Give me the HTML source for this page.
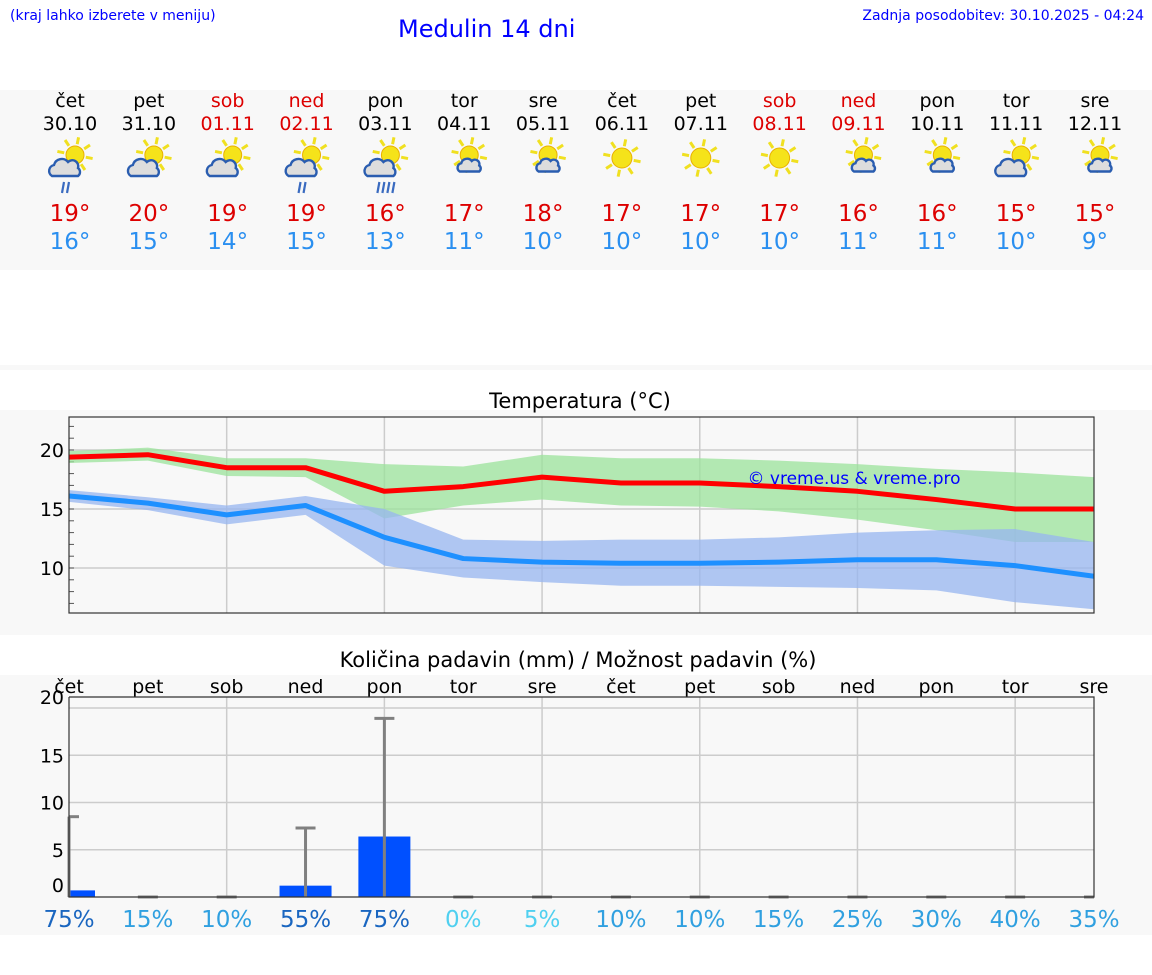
<!DOCTYPE html>
<html><head><meta charset="utf-8"><style>
body{margin:0;width:1152px;height:975px;background:#fff;font-family:"DejaVu Sans","Liberation Sans",sans-serif;position:relative;overflow:hidden}
.abs{position:absolute}
</style></head><body>
<div class="abs" style="left:10px;top:8px;font-size:14px;color:#00f">(kraj lahko izberete v meniju)</div>
<div class="abs" style="left:398px;top:15px;font-size:24px;color:#00f">Medulin 14 dni</div>
<div class="abs" style="right:8px;top:8px;font-size:14px;color:#00f">Zadnja posodobitev: 30.10.2025 - 04:24</div>
<div class="abs" style="left:0;top:90px;width:1152px;height:180px;background:#f8f8f8"></div>
<div class="abs" style="left:0;top:365px;width:1152px;height:5px;background:#f8f8f8"></div>
<div class="abs" style="left:0;top:410px;width:1152px;height:225px;background:#f8f8f8"></div>
<div class="abs" style="left:0;top:675px;width:1152px;height:260px;background:#f8f8f8"></div>
<svg class="abs" style="left:0;top:0" width="1152" height="975" id="svg"></svg>
<script>
const days=["čet","pet","sob","ned","pon","tor","sre","čet","pet","sob","ned","pon","tor","sre"];
const dates=["30.10","31.10","01.11","02.11","03.11","04.11","05.11","06.11","07.11","08.11","09.11","10.11","11.11","12.11"];
const weekend=[0,0,1,1,0,0,0,0,0,1,1,0,0,0];
const icons=["rain","cloud","cloud","rain","heavy","part","part","sun","sun","sun","part","part","cloud","part"];
const tmax=[19,20,19,19,16,17,18,17,17,17,16,16,15,15];
const tmin=[16,15,14,15,13,11,10,10,10,10,11,11,10,9];
const maxLine=[19.4,19.6,18.5,18.5,16.5,16.9,17.7,17.2,17.2,16.9,16.5,15.8,15.0,15.0];
const maxHi=[19.9,20.2,19.3,19.3,18.8,18.6,19.6,19.3,19.3,19.1,18.8,18.4,18.1,17.7];
const maxLo=[18.9,19.1,17.8,17.7,14.2,15.3,15.8,15.3,15.2,14.8,14.1,13.2,12.2,12.2];
const minLine=[16.1,15.5,14.5,15.3,12.6,10.8,10.5,10.4,10.4,10.5,10.7,10.7,10.2,9.3];
const minHi=[16.6,16.0,15.3,16.1,15.0,12.4,12.3,12.4,12.4,12.6,13.0,13.2,13.3,12.2];
const minLo=[15.6,14.9,13.7,14.5,10.2,9.2,8.8,8.5,8.5,8.4,8.3,8.1,7.1,6.5];
const tempTicks=[10,15,20];
const precip=[0.7,0,0,1.2,6.4,0,0,0,0,0,0,0,0,0];
const precipMax=[8.5,0,0,7.3,18.9,0,0,0,0,0,0,0,0,0];
const chance=[75,15,10,55,75,0,5,10,10,15,25,30,40,35];
const precipTicks=[0,5,10,15,20];
const NS="http://www.w3.org/2000/svg",svg=document.getElementById('svg');
function el(t,a,p){const e=document.createElementNS(NS,t);for(const k in a)e.setAttribute(k,a[k]);(p||svg).appendChild(e);return e;}
const X0=69,X1=1094,dx=(X1-X0)/13;
const xs=i=>X0+dx*i;
const yT=v=>450-(v-20)*11.8;
const yP=v=>897-v*9.45;
// header
days.forEach((d,i)=>{const x=xs(i)+1;const c=weekend[i]?'#d00':'#000';
let t=el('text',{x:x,y:107,'text-anchor':'middle','font-size':19,fill:c});t.textContent=d;

t=el('text',{x:x,y:130,'text-anchor':'middle','font-size':19,fill:c});t.textContent=dates[i];

const g=el('g',{transform:`translate(${x},158)`});

const sun=icons[i]==='sun';
const sx=sun?0:5,sy=sun?0:-3,r=sun?10:9;
for(let k=0;k<8;k++){const a=k*Math.PI/4+0.2;el('line',{x1:sx+Math.cos(a)*(r+2),y1:sy+Math.sin(a)*(r+2),x2:sx+Math.cos(a)*(r+9),y2:sy+Math.sin(a)*(r+9),stroke:'#f0e020','stroke-width':3},g);}
el('circle',{cx:sx,cy:sy,r:r,fill:'#f5e31a',stroke:'#e8b000','stroke-width':1},g);
if(!sun){const part=icons[i]==='part';const s=part?0.75:1,ox=part?6:-4,oy=part?6:8;
el('path',{d:`M${ox-14*s},${oy+10*s} a${6*s},${6*s} 0 0 1 ${2*s},${-11*s} a${8*s},${8*s} 0 0 1 ${14*s},${-3*s} a${6*s},${6*s} 0 0 1 ${10*s},${6*s} a${5*s},${5*s} 0 0 1 0,${8*s} z`,fill:'#ddd',stroke:'#2a5db0','stroke-width':2.4},g);}
if(icons[i]==='rain'||icons[i]==='heavy'){const n=icons[i]==='heavy'?4:2;for(let k=0;k<n;k++)el('line',{x1:-6+k*5,y1:24,x2:-8+k*5,y2:35,stroke:'#3a6bc0','stroke-width':2.2},g);}
t=el('text',{x:x,y:221,'text-anchor':'middle','font-size':23,fill:'#d00'});t.textContent=tmax[i]+'°';

t=el('text',{x:x,y:249,'text-anchor':'middle','font-size':23,fill:'#2a8ff0'});t.textContent=tmin[i]+'°';

});
// temperature chart
let t=el('text',{x:580,y:408,'text-anchor':'middle','font-size':21,fill:'#000'});t.textContent='Temperatura (°C)';

el('rect',{x:X0,y:417,width:X1-X0,height:196,fill:'#f8f8f8'});
for(let i=2;i<13;i+=2)el('line',{x1:xs(i),y1:417,x2:xs(i),y2:613,stroke:'#ccc','stroke-width':1.5});
tempTicks.forEach(v=>{el('line',{x1:X0,y1:yT(v),x2:X1,y2:yT(v),stroke:'#ccc','stroke-width':1.5});
const tt=el('text',{x:64,y:yT(v)+7,'text-anchor':'end','font-size':19});tt.textContent=v;
});
for(let v=7;v<=22;v++)el('line',{x1:X0,y1:yT(v),x2:X0+5,y2:yT(v),stroke:'#555'});
function band(hi,lo,fill,name){let d='M'+hi.map((v,i)=>xs(i)+','+yT(v)).join('L')+'L'+lo.map((v,i)=>xs(i)+','+yT(v)).reverse().join('L')+'Z';
const p=el('path',{d:d,fill:fill,opacity:0.75});}
function line(a,c,name){const p=el('polyline',{points:a.map((v,i)=>xs(i)+','+yT(v)).join(' '),fill:'none',stroke:c,'stroke-width':5,'stroke-linejoin':'round'});}
band(maxHi,maxLo,'#9be39b','max-temp-range');
band(minHi,minLo,'#97b6f0','min-temp-range');
line(maxLine,'#ff0000','max-temp-line');
line(minLine,'#1e90ff','min-temp-line');
t=el('text',{x:854,y:484,'text-anchor':'middle','font-size':17,fill:'#00f'});t.textContent='© vreme.us & vreme.pro';

el('rect',{x:X0,y:417,width:X1-X0,height:196,fill:'none',stroke:'#333','stroke-width':1.2});
// precip chart
t=el('text',{x:578,y:667,'text-anchor':'middle','font-size':21});t.textContent='Količina padavin (mm) / Možnost padavin (%)';

for(let i=2;i<13;i+=2)el('line',{x1:xs(i),y1:697,x2:xs(i),y2:897,stroke:'#ccc','stroke-width':1.5});
precipTicks.forEach(v=>{if(v>0)el('line',{x1:X0,y1:yP(v),x2:X1,y2:yP(v),stroke:'#ccc','stroke-width':1.5});
const tt=el('text',{x:64,y:yP(v)+(v===0?-5:v===20?-4:7),'text-anchor':'end','font-size':19});tt.textContent=v;
});
days.forEach((d,i)=>{const tt=el('text',{x:xs(i),y:693,'text-anchor':'middle','font-size':19});tt.textContent=d;
});
precip.forEach((v,i)=>{if(v>0){const x=Math.max(X0,xs(i)-26),w=xs(i)+26-x;
const r=el('rect',{x:x,y:yP(v),width:w,height:yP(0)-yP(v),fill:'#0050ff'});}});
precipMax.forEach((v,i)=>{const g=el('g',{stroke:'#808080','stroke-width':3});
el('line',{x1:xs(i),y1:yP(0),x2:xs(i),y2:yP(v)},g);el('line',{x1:Math.max(X0,xs(i)-10),y1:yP(v),x2:Math.min(X1,xs(i)+10),y2:yP(v)},g);});
chance.forEach((v,i)=>{const c=v>=50?'#1a66c0':v>=10?'#30a0e0':'#50d0f0';
const tt=el('text',{x:xs(i),y:927,'text-anchor':'middle','font-size':23,fill:c});tt.textContent=v+'%';
});
el('path',{d:`M${X0},697V897H${X1}V697H${X0}`,fill:'none',stroke:'#333','stroke-width':1.2});
</script>
</body></html>
